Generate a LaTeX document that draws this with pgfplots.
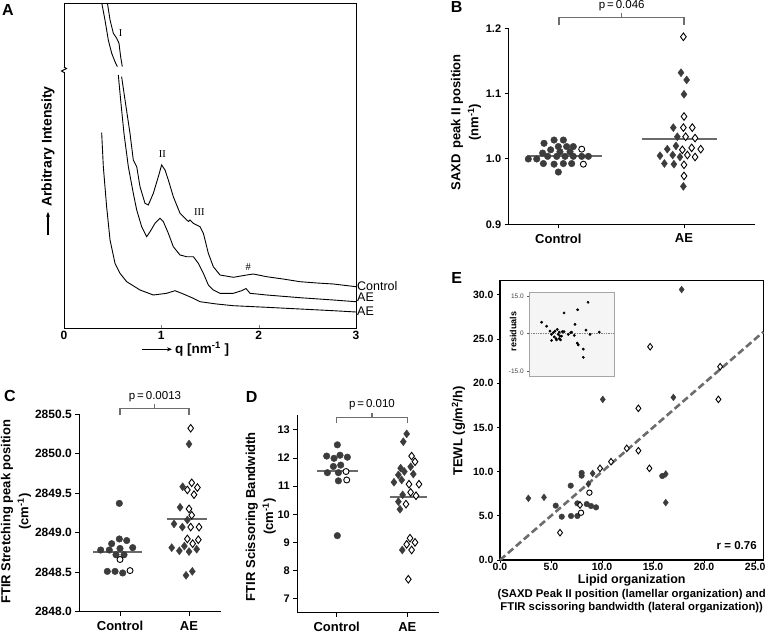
\documentclass[border=0pt]{standalone}
\usepackage{pgfplots}
\pgfplotsset{compat=1.18}
\usepackage{fontspec}
\setmainfont{Liberation Sans}
\newfontfamily\serifA{Liberation Serif}
\usetikzlibrary{arrows.meta}
\definecolor{dk}{HTML}{3C3C3C}
\definecolor{brk}{HTML}{6E6E6E}
\definecolor{mline}{HTML}{6A6A6A}
\newcommand{\fs}[1]{\fontsize{#1}{#1}\selectfont}
\pgfplotsset{
 swarm/.style={scale only axis, axis lines*=left, tick align=outside, major tick length=4pt,
   axis line style={line width=1.2pt}, every tick/.append style={black,line width=1pt},
   xtick={0,1}, xticklabels={Control,AE}, xticklabel style={font=\bfseries\fs{13}, yshift=-2pt},
   yticklabel style={font=\bfseries\fs{11}}, /pgf/number format/assume math mode=true, clip=false,
   ylabel style={align=center, font=\bfseries\fontsize{13}{18}\selectfont, anchor=center}},
 filled/.style={only marks, mark=*, mark size=3.3pt, mark options={fill=dk, draw=dk}},
 openc/.style={only marks, mark=*, mark size=3pt, mark options={fill=white, draw=black, line width=0.9pt}},
 filledd/.style={only marks, mark=diamond*, mark size=4pt, mark options={fill=dk, draw=dk}},
 opend/.style={only marks, mark=diamond*, mark size=3.8pt, mark options={fill=white, draw=black, line width=0.9pt}},
 meanl/.style={mline, line width=2pt, no marks},
}
\begin{document}
\begin{tikzpicture}[x=1pt,y=1pt]
% ---------------- Panel A
\begin{axis}[at={(64pt,305pt)}, anchor=south west, scale only axis, width=292pt, height=325pt,
  xmin=0, xmax=3, ymin=0, ymax=325, xtick={0,1,2,3}, ytick=\empty, xtick pos=bottom,
  tick align=inside, major tick length=3pt, clip=false, axis line style={line width=0.9pt},
  xticklabel style={font=\bfseries\fs{12}}, /pgf/number format/assume math mode=true]
\addplot[black, line width=0.9pt] coordinates {(0.446,325)(0.473,308)(0.507,294.7)(0.541,289.7)(0.565,284.7)(0.582,271.3)(0.599,261.3)};
\addplot[black, line width=0.9pt] coordinates {(0.592,251.3)(0.627,228)(0.678,194.7)(0.712,168)(0.747,161.3)(0.781,141.3)(0.832,124.7)(0.866,123)(0.918,134.7)(0.969,151.3)(1.003,163)(1.038,158)(1.072,148)(1.123,131.3)(1.192,114.7)(1.260,108)(1.280,106.5)(1.295,108)(1.329,104.7)(1.397,101.3)(1.432,94.7)(1.483,74.7)(1.534,61.3)(1.603,53)(1.740,50.7)(1.877,53)(1.945,54)(2.082,51.3)(2.25,49)(2.425,46.3)(2.6,45)(2.767,44)(3.0,41.3)};
\addplot[black, line width=0.9pt] coordinates {(0.388,325)(0.421,308)(0.455,288)(0.490,274.7)(0.524,266.3)(0.548,261.3)};
\addplot[black, line width=0.9pt] coordinates {(0.558,253)(0.582,228)(0.616,194.7)(0.661,161.3)(0.712,134.7)(0.747,118)(0.798,101.3)(0.849,91.3)(0.884,96.3)(0.935,104.7)(0.986,109.7)(1.021,106.3)(1.072,94.7)(1.123,81.3)(1.192,73)(1.260,71.3)(1.329,71.3)(1.380,64.7)(1.432,54.7)(1.483,43)(1.534,38)(1.603,34.7)(1.740,34.7)(1.825,37.3)(1.870,39.5)(1.911,34.7)(2.082,33)(2.425,30.3)(2.767,28)(3.0,26.3)};
\addplot[black, line width=0.9pt] coordinates {(0.387,195.3)(0.404,161.3)(0.438,121.3)(0.473,88)(0.524,64.7)(0.575,54.7)(0.644,46.3)(0.781,38)(0.918,33)(1.055,34.7)(1.140,37.3)(1.209,34.7)(1.329,29.7)(1.397,26.3)(1.568,24)(1.740,22.3)(2.082,20.7)(2.425,19)(2.767,17.3)(3.0,16)};
\node[font=\serifA\fs{10.5}] at (axis cs:0.582,294.7) {I};
\node[font=\serifA\fs{10.5}] at (axis cs:1.01,174) {II};
\node[font=\serifA\fs{10.5}] at (axis cs:1.39,115.7) {III};
\node[font=\serifA\fs{10.5}] at (axis cs:1.894,61.3) {\#};
\node[font=\fs{12.5}, anchor=west, inner sep=0pt] at (axis cs:3.01,42.3) {Control};
\node[font=\fs{12.5}, anchor=west, inner sep=0pt] at (axis cs:3.01,31) {AE};
\node[font=\fs{12.5}, anchor=west, inner sep=0pt] at (axis cs:3.01,17) {AE};
\end{axis}
\fill[white] (62,561) rectangle (66,565);
\draw[line width=0.9pt] (64,566) -- (66.5,564.5) -- (61.5,562) -- (64,560.5);
\node[font=\bfseries\fs{16}] at (8,623) {A};
\draw[-{Stealth[length=5pt,width=4pt]}, line width=1.1pt] (48,398) -- (48,421);
\node[rotate=90, anchor=west, inner sep=0pt, font=\bfseries\fs{14}] at (48,426) {Arbitrary Intensity};
\draw[-{Stealth[length=5pt,width=4pt]}, line width=1.1pt] (142,283.7) -- (172,283.7);
\node[anchor=west, inner sep=0pt, font=\bfseries\fs{13.5}] at (175,283.7) {q [nm\textsuperscript{-1} ]};
% ---------------- Panel B
\begin{axis}[swarm, at={(508.7pt,408.7pt)}, anchor=south west, width=246.3pt, height=196pt,
  xmin=-0.395, xmax=1.565, ymin=0.9, ymax=1.2, ytick={0.9,1.0,1.1,1.2},
  yticklabel style={/pgf/number format/.cd, fixed, fixed zerofill, precision=1},
  ylabel={SAXD\, peak II position\\(nm\textsuperscript{-1})},
  ylabel style={at={(axis description cs:-0.173,0.52)}}]
\addplot[filled] coordinates {(-0.114,1.024)(-0.034,1.029)(0.040,1.029)(0.0,1.019)(0.066,1.019)(0.119,1.019)(-0.061,1.014)(0.013,1.011)(0.093,1.011)(-0.125,1.009)(-0.239,1.0)(-0.172,1.0)(-0.085,1.004)(-0.013,1.004)(0.053,1.004)(0.119,1.004)(0.186,1.004)(0.239,1.004)(-0.119,0.993)(-0.034,0.992)(0.040,0.993)(0.106,0.993)(0.0,0.98)};
\addplot[openc] coordinates {(0.186,1.015)(0.199,0.992)};
\addplot[filledd] coordinates {(0.976,1.132)(1.021,1.121)(1.0,1.099)(0.915,1.048)(0.947,1.034)(0.936,1.020)(0.867,1.015)(0.809,1.005)(0.910,1.006)(0.968,1.003)(0.844,0.993)(0.920,0.992)(0.995,0.958)};
\addplot[opend] coordinates {(0.995,1.187)(1.0,1.065)(0.995,1.048)(1.066,1.048)(1.013,1.034)(1.088,1.032)(0.987,1.014)(1.061,1.017)(1.133,1.015)(1.027,1.006)(1.088,1.003)(1.0,0.991)(1.0,0.974)};
\addplot[meanl] coordinates {(-0.252,1.005)(0.345,1.005)};
\addplot[meanl] coordinates {(0.663,1.031)(1.259,1.031)};
\end{axis}
\node[font=\bfseries\fs{16}] at (456.7,625.7) {B};
\draw[brk, line width=1.4pt] (559,608) -- (559,615.3) -- (684,615.3) -- (684,608) (621.5,615.3) -- (621.5,619.7);
\node[font=\fs{11.5}] at (621.7,627) {p\,=\,0.046};
% ---------------- Panel C
\begin{axis}[swarm, at={(79.3pt,21.3pt)}, anchor=south west, width=141.4pt, height=197.7pt,
  xmin=-0.59, xmax=1.459, ymin=2848, ymax=2850.5, ytick={2848,2848.5,2849,2849.5,2850,2850.5},
  yticklabel style={font=\bfseries\fs{12}, /pgf/number format/.cd, fixed, fixed zerofill, precision=1, 1000 sep={}},
  ylabel={FTIR Stretching peak position\\(cm\textsuperscript{-1})},
  ylabel style={at={(axis description cs:-0.448,0.506)}}]
\addplot[filled] coordinates {(-0.010,2849.37)(-0.010,2848.92)(-0.121,2848.86)(0.097,2848.90)(-0.280,2848.78)(-0.155,2848.78)(0,2848.80)(0.184,2848.81)(-0.058,2848.72)(0.058,2848.72)(-0.184,2848.51)(-0.072,2848.51)(0.039,2848.49)};
\addplot[openc] coordinates {(0,2848.66)(0.145,2848.52)};
\addplot[filledd] coordinates {(1.0,2850.12)(0.908,2849.58)(0.870,2849.32)(0.976,2849.16)(0.783,2849.11)(0.903,2849.07)(0.932,2848.83)(0.749,2848.81)(0.860,2848.77)(1.0,2848.76)(1.111,2848.79)(1.048,2848.51)(0.957,2848.46)};
\addplot[opend] coordinates {(1.024,2850.32)(1.039,2849.63)(1.121,2849.57)(0.976,2849.54)(1.072,2849.48)(1.0,2849.30)(1.039,2849.22)(1.024,2849.07)(1.145,2849.07)(0.976,2848.92)(1.135,2848.91)(1.053,2848.86)};
\addplot[meanl] coordinates {(-0.387,2848.75)(0.314,2848.75)};
\addplot[meanl] coordinates {(0.677,2849.17)(1.265,2849.17)};
\end{axis}
\node[font=\bfseries\fs{16}] at (10,237) {C};
\draw[brk, line width=1.4pt] (120,218) -- (120,224.7) -- (189,224.7) -- (189,218) (154.5,224.7) -- (154.5,229);
\node[font=\fs{11.5}] at (155,236.3) {p\,=\,0.0013};
% ---------------- Panel D
\begin{axis}[swarm, at={(297.3pt,20.3pt)}, anchor=south west, width=142pt, height=197.7pt,
  xmin=-0.558, xmax=1.453, ymin=6.5, ymax=13.53, ytick={7,8,9,10,11,12,13},
  ylabel={FTIR Scissoring Bandwidth\\(cm\textsuperscript{-1})},
  ylabel style={at={(axis description cs:-0.257,0.486)}}]
\addplot[filled] coordinates {(0.009,12.47)(-0.142,12.07)(-0.038,11.99)(0.047,12.10)(0.151,12.03)(-0.047,11.70)(0.057,11.75)(-0.132,11.48)(0.024,11.48)(0.024,11.19)(0.009,9.24)};
\addplot[openc] coordinates {(0.132,11.52)(0.142,11.22)};
\addplot[filledd] coordinates {(0.991,12.86)(0.943,12.58)(0.906,11.64)(1.047,11.69)(0.873,11.40)(0.958,11.52)(0.811,11.14)(0.920,11.22)(1.085,11.43)(0.934,10.69)(0.873,10.45)(0.896,10.18)(0.929,8.73)};
\addplot[opend] coordinates {(1.061,12.07)(1.109,11.87)(1.024,11.07)(1.165,11.07)(1.047,10.78)(1.123,10.66)(0.981,10.36)(1.038,9.15)(0.991,8.93)(1.109,9.0)(1.061,8.73)(1.014,7.69)};
\addplot[meanl] coordinates {(-0.274,11.55)(0.307,11.55)};
\addplot[meanl] coordinates {(0.755,10.63)(1.274,10.63)};
\end{axis}
\node[font=\bfseries\fs{16}] at (251.7,236.3) {D};
\draw[brk, line width=1.4pt] (336.7,210.3) -- (336.7,215.7) -- (407.3,215.7) -- (407.3,210.3) (372,215.7) -- (372,219.7);
\node[font=\fs{11.5}] at (372,228) {p\,=\,0.010};
% ---------------- Panel E
\begin{axis}[at={(500pt,73pt)}, anchor=south west, scale only axis, width=263.3pt, height=279.3pt,
  xmin=0, xmax=25.8, ymin=0, ymax=31.6, xtick={0,5,10,15,20,25}, ytick={0,5,10,15,20,25,30},
  xtick pos=bottom, ytick pos=left, tick align=outside, major tick length=3pt,
  axis line style={line width=1.2pt}, every tick/.append style={black,line width=1pt}, clip=false,
  ticklabel style={font=\bfseries\fs{10.5}}, /pgf/number format/assume math mode=true,
  xticklabel style={yshift=3pt, /pgf/number format/.cd, fixed, fixed zerofill, precision=1},
  yticklabel style={/pgf/number format/.cd, fixed, fixed zerofill, precision=1},
  ylabel={TEWL (g/m\textsuperscript{2}/h)}, ylabel style={font=\bfseries\fs{13}, at={(axis description cs:-0.158,0.462)}, anchor=center}]
\addplot[gray!85!black, line width=2.6pt, dash pattern=on 7pt off 3.5pt] coordinates {(0,0)(25.8,25.8)};
\addplot[filledd, mark size=3.4pt] coordinates {(2.78,6.98)(4.31,7.09)(10.07,18.17)(16.99,18.40)(16.24,9.73)(16.24,6.49)(9.08,9.80)(8.66,8.6)(17.8,30.6)};
\addplot[filled, mark size=2.8pt] coordinates {(5.46,6.15)(6.05,4.9)(6.93,8.41)(6.96,4.98)(7.58,4.98)(7.58,6.41)(8.0,9.54)(8.0,9.85)(8.5,6.33)(8.92,6.11)(9.41,5.96)(15.9,9.5)};
\addplot[openc, mark size=2.7pt] coordinates {(8.76,7.62)(7.94,5.35)};
\addplot[opend, mark size=3.3pt] coordinates {(14.71,24.13)(21.57,21.87)(21.4,18.17)(13.56,17.16)(13.56,12.37)(12.42,12.63)(10.88,11.12)(9.80,10.37)(14.64,10.37)(5.88,3.09)(7.84,6.22)};
\end{axis}
\begin{axis}[at={(529.3pt,257pt)}, anchor=south west, scale only axis, width=85pt, height=83.7pt,
  xmin=0, xmax=85, ymin=-17.1, ymax=16.5, xtick=\empty, ytick={-15,0,15}, yticklabels={-15.0,0,15.0},
  ytick pos=left, tick align=outside, major tick length=2pt,
  axis background/.style={fill=gray!8}, axis line style={gray!70},
  every tick/.append style={gray!70!black}, ticklabel style={font=\fs{6.5}, text=gray!50!black},
  ylabel={residuals}, ylabel style={font=\bfseries\fs{9}, at={(axis description cs:-0.19,0.53)}, anchor=center}]
\addplot[gray, densely dotted, line width=0.7pt] coordinates {(0,0)(85,0)};
\addplot[only marks, mark=*, mark size=1.2pt, black] coordinates {(12.3,4.5)(17.3,2.9)(20.7,0.9)(22.3,-0.4)(24,0.3)(25,-1.4)(26.7,-2.1)(28,1.6)(29,-0.4)(30,-2.1)(31.3,-2.6)(32.3,-1.1)(33,0.7)(34.7,0.7)(34.7,8.2)(22.3,-2.8)(27.3,-2.6)(30.7,-1.1)(39,-0.4)(41.3,0.3)(42.3,0.5)(45,-0.8)(45.7,3.6)(48.3,9.5)(48,-3.9)(49,-4.6)(54,-6.3)(54,-9.6)(56.7,1.3)(58.7,12.5)(60.7,-0.4)(70,0.5)(25.7,0.9)(30,0.5)};
\end{axis}
\node[font=\bfseries\fs{16}] at (456.7,355.3) {E};
\node[font=\bfseries\fs{11.5}] at (736.7,87) {r = 0.76};
\node[font=\bfseries\fs{12.5}] at (631.7,52.7) {Lipid organization};
\node[font=\bfseries\fs{11.3}] at (631.7,38.2) {(SAXD Peak II position (lamellar organization) and};
\node[font=\bfseries\fs{11.3}] at (631.7,25.2) {FTIR scissoring bandwidth (lateral organization))};
\pgfresetboundingbox
\path (0,0) rectangle (768,633);
\end{tikzpicture}
\end{document}
